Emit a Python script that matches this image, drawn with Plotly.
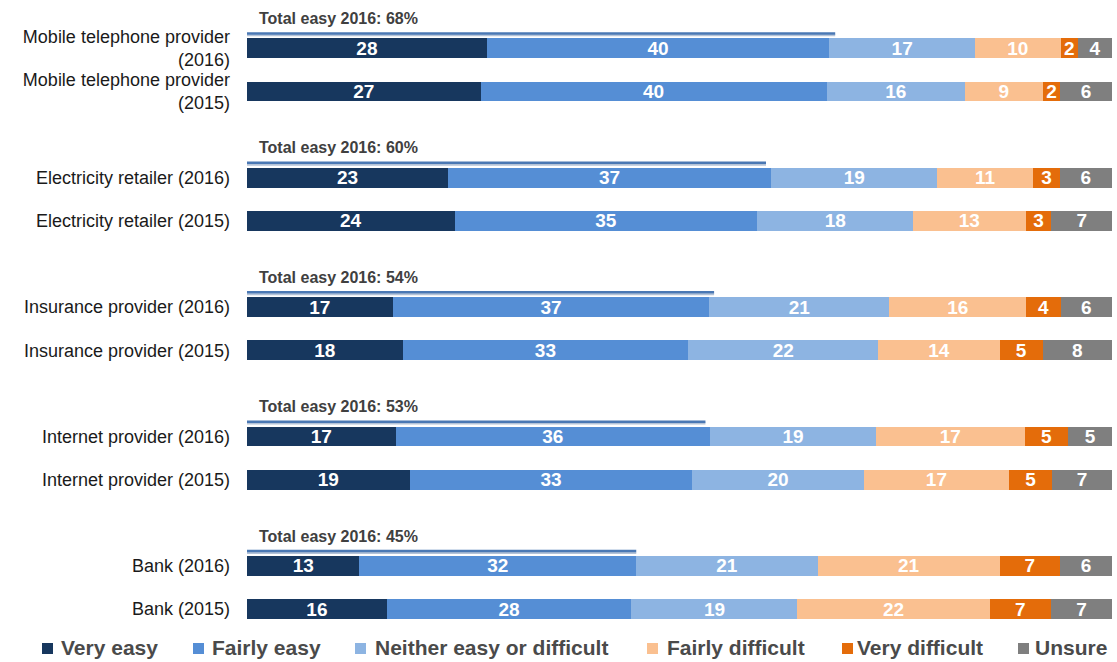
import plotly.graph_objects as go

# Ease of switching provider, % of respondents (rows sum to ~100 and are shown as 100% stacked)
categories = [
    "Mobile telephone provider<br>(2016)",
    "Mobile telephone provider<br>(2015)",
    "Electricity retailer (2016)",
    "Electricity retailer (2015)",
    "Insurance provider (2016)",
    "Insurance provider (2015)",
    "Internet provider (2016)",
    "Internet provider (2015)",
    "Bank (2016)",
    "Bank (2015)",
]
very_easy = [28, 27, 23, 24, 17, 18, 17, 19, 13, 16]
fairly_easy = [40, 40, 37, 35, 37, 33, 36, 33, 32, 28]
neither = [17, 16, 19, 18, 21, 22, 19, 20, 21, 19]
fairly_difficult = [10, 9, 11, 13, 16, 14, 17, 17, 21, 22]
very_difficult = [2, 2, 3, 3, 4, 5, 5, 5, 7, 7]
unsure = [4, 6, 6, 7, 6, 8, 5, 7, 6, 7]

# Combined "very easy" + "fairly easy" for each 2016 row
total_easy_2016 = [68, 60, 54, 53, 45]

series_names = ["Very easy", "Fairly easy", "Neither easy or difficult",
                "Fairly difficult", "Very difficult", "Unsure"]
series_values = [very_easy, fairly_easy, neither, fairly_difficult, very_difficult, unsure]
series_colors = ["#17375e", "#558ed5", "#8db4e2", "#fac090", "#e46c0a", "#7f7f7f"]

FONT = "Liberation Sans, Arial, sans-serif"
W, H = 1117, 662
M_L, M_R, M_T, M_B = 247, 5, 3, 27

# Rows come in pairs (2016, 2015) with a blank row between groups
positions = []
for g in range(len(categories) // 2):
    positions += [3 * g, 3 * g + 1]

fig = go.Figure()
for name, vals, col in zip(series_names, series_values, series_colors):
    fig.add_trace(go.Bar(
        y=positions, x=vals, name=name, orientation="h",
        marker=dict(color=col, line=dict(width=0)),
        width=0.46,
        text=vals, texttemplate="%{text}",
        textposition="inside", insidetextanchor="middle", textangle=0,
        insidetextfont=dict(family=FONT, size=19, color="white", weight="bold"),
        hoverinfo="skip", showlegend=False,
    ))

# "Total easy" marker line and caption above each 2016 bar
for g, tot in enumerate(total_easy_2016):
    y_bar = 3 * g
    fig.add_shape(type="line", xref="x", yref="y", x0=0, x1=tot,
                  y0=y_bar - 0.30, y1=y_bar - 0.30,
                  line=dict(color="#b4c3d8", width=2))
    fig.add_shape(type="line", xref="x", yref="y", x0=0, x1=tot,
                  y0=y_bar - 0.345, y1=y_bar - 0.345,
                  line=dict(color="#4a78b4", width=2.5))
    fig.add_annotation(x=1.1, y=y_bar - 0.69, xref="x", yref="y",
                       text=f"Total easy 2016: {tot}%", showarrow=False,
                       xanchor="left", yanchor="middle",
                       font=dict(family=FONT, size=16, color="#404040", weight="bold"))


# Legend row drawn below the plot area (pixel layout -> paper coordinates)
def px_x(px):
    return (px - M_L) / (W - M_L - M_R)


def px_y(py):
    plot_h = H - M_T - M_B
    return (H - M_B - py) / plot_h


legend_marker_left = [42, 193, 355, 647, 842, 1018]
legend_text_left = [59, 210, 373, 665, 855, 1033]
LEGEND_MID = 648
for name, col, mx, tx in zip(series_names, series_colors, legend_marker_left, legend_text_left):
    fig.add_shape(type="rect", xref="paper", yref="paper",
                  x0=px_x(mx), x1=px_x(mx + 11),
                  y0=px_y(LEGEND_MID + 6), y1=px_y(LEGEND_MID - 5),
                  fillcolor=col, line=dict(width=0))
    fig.add_annotation(x=px_x(tx), y=px_y(LEGEND_MID), xref="paper", yref="paper",
                       text=name, showarrow=False, xanchor="left", yanchor="middle",
                       font=dict(family=FONT, size=21, color="#4a4a4a", weight="bold"))

fig.update_layout(
    barmode="stack",
    barnorm="percent",
    width=W, height=H,
    margin=dict(l=M_L, r=M_R, t=M_T, b=M_B, autoexpand=False),
    paper_bgcolor="white", plot_bgcolor="white",
    font=dict(family=FONT),
    uniformtext=dict(minsize=19, mode="show"),
    showlegend=False,
    xaxis=dict(range=[0, 100], showticklabels=False, showgrid=False,
               zeroline=False, showline=False, fixedrange=True),
    yaxis=dict(range=[13.6, -1.05], tickmode="array", tickvals=positions,
               ticktext=categories, showgrid=False, zeroline=False,
               showline=False, ticks="", ticklabelstandoff=16,
               tickfont=dict(family=FONT, size=18, color="#1a1a1a")),
)

fig.write_html("out.html")
